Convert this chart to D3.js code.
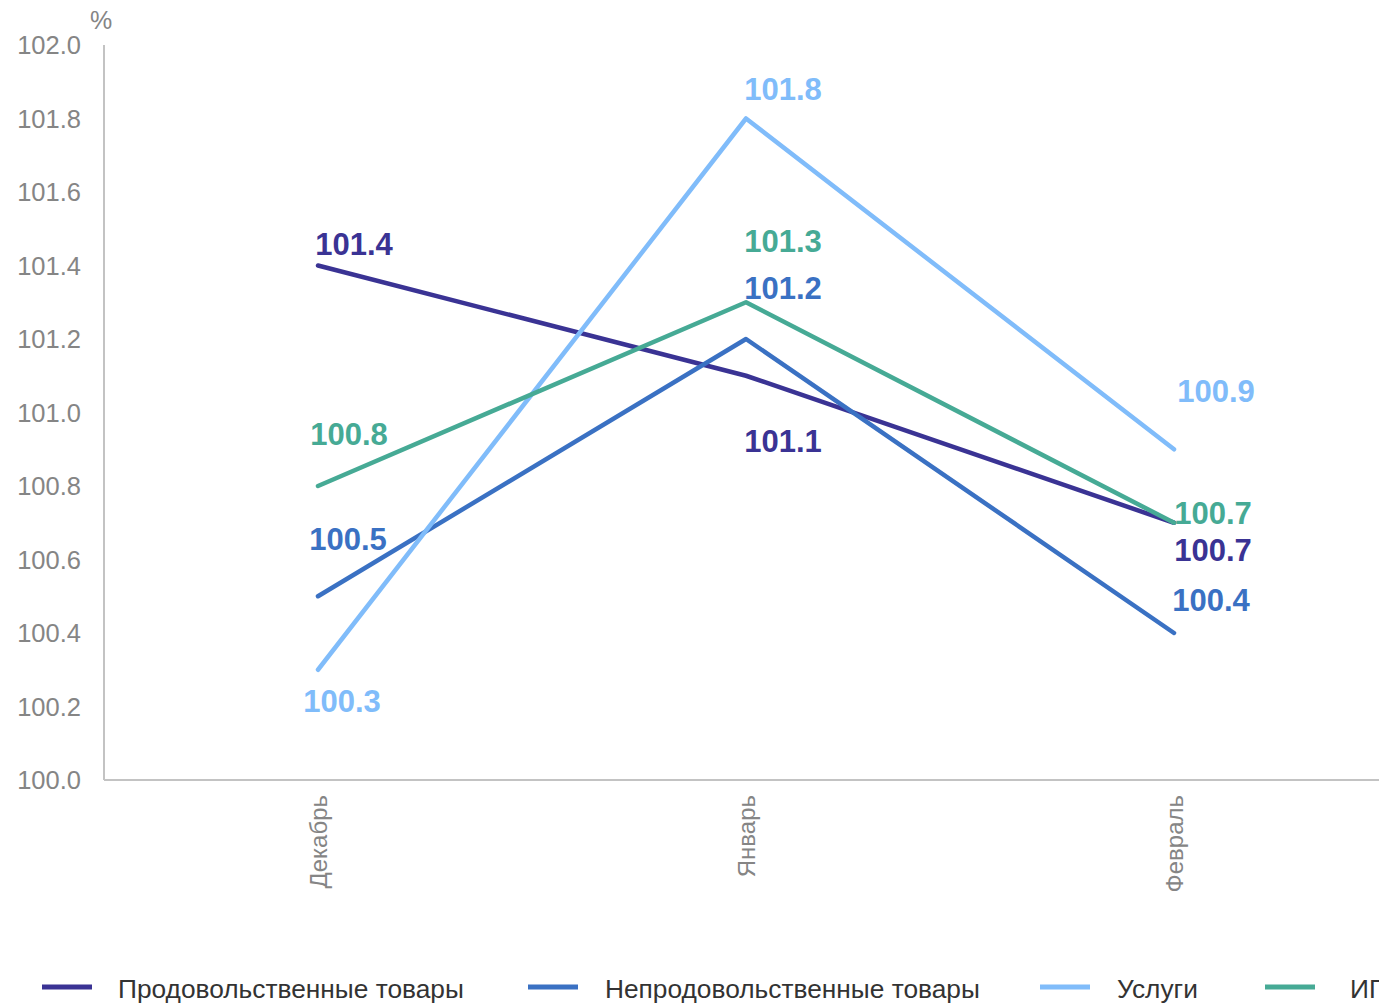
<!DOCTYPE html>
<html>
<head>
<meta charset="utf-8">
<script src="https://cdn.jsdelivr.net/npm/d3@7/dist/d3.min.js"></script>
<style>
  body { margin: 0; background: #fff; }
  svg { display: block; font-family: "Liberation Sans", Arial, sans-serif; }
</style>
</head>
<body>
<svg id="chart" width="1379" height="1003"></svg>
<script>
// months on the x axis
const months = ["Декабрь", "Январь", "Февраль"];
// y ticks
const yTicks = [100.0, 100.2, 100.4, 100.6, 100.8, 101.0, 101.2, 101.4, 101.6, 101.8, 102.0];

const seriesNames = ["Продовольственные товары", "Непродовольственные товары", "Услуги", "ИПЦ"];
const seriesColors = ["#3a3394", "#3a71c3", "#80bcfa", "#46aa95"];

const foodVals = [101.4, 101.1, 100.7];
const nonFoodVals = [100.5, 101.2, 100.4];
const servicesVals = [100.3, 101.8, 100.9];
const cpiVals = [100.8, 101.3, 100.7];

// label nudges (px) per series per point
const labelNudge = [
  [[36, -22], [37, 65], [39, 27]],
  [[30, -57], [37, -51], [37, -33]],
  [[24, 31], [37, -30], [42, -58]],
  [[31, -52], [37, -61], [39, -10]]
];

const margin = {left: 104, top: 45, bottom: 223};
const W = 1379, H = 1003;

const svg = d3.select("#chart");

const x = d3.scaleBand().domain(months).range([margin.left, margin.left + 3 * 428]);
const y = d3.scaleLinear().domain([100, 102]).range([H - margin.bottom, margin.top]);
const cx = m => x(m) + x.bandwidth() / 2;

// axes
svg.append("line")
  .attr("x1", margin.left).attr("x2", margin.left)
  .attr("y1", y(102)).attr("y2", y(100))
  .attr("stroke", "#c3c3c3").attr("stroke-width", 2);
svg.append("line")
  .attr("x1", margin.left).attr("x2", W)
  .attr("y1", y(100)).attr("y2", y(100))
  .attr("stroke", "#c3c3c3").attr("stroke-width", 2);

svg.append("g").selectAll("text")
  .data(yTicks)
  .enter().append("text")
  .attr("x", 81)
  .attr("y", d => y(d))
  .attr("dy", "0.36em")
  .attr("text-anchor", "end")
  .attr("fill", "#858585")
  .style("font-size", "25.5px")
  .text(d => d.toFixed(1));

svg.append("text")
  .attr("x", 101).attr("y", 29)
  .attr("text-anchor", "middle")
  .attr("fill", "#858585")
  .style("font-size", "25px")
  .text("%");

svg.append("g").selectAll("text")
  .data(months)
  .enter().append("text")
  .attr("transform", d => `translate(${cx(d) + 9},795) rotate(-90)`)
  .attr("text-anchor", "end")
  .attr("fill", "#858585")
  .style("font-size", "24px")
  .text(d => d);

// lines
const allVals = [foodVals, nonFoodVals, servicesVals, cpiVals];
const line = d3.line().x((d, i) => cx(months[i])).y(d => y(d));

allVals.forEach((vals, s) => {
  svg.append("path")
    .datum(vals)
    .attr("d", line)
    .attr("fill", "none")
    .attr("stroke", seriesColors[s])
    .attr("stroke-width", 4.5)
    .attr("stroke-linecap", "round")
    .attr("stroke-linejoin", "round");
});

// data labels
allVals.forEach((vals, s) => {
  svg.append("g").selectAll("text")
    .data(vals)
    .enter().append("text")
    .attr("x", (d, i) => cx(months[i]) + labelNudge[s][i][0])
    .attr("y", (d, i) => y(d) + labelNudge[s][i][1])
    .attr("dy", "0.36em")
    .attr("text-anchor", "middle")
    .attr("fill", seriesColors[s])
    .style("font-size", "31px")
    .style("font-weight", "bold")
    .text(d => d.toFixed(1));
});

// legend
const legX = [42, 528, 1040, 1265];
const legTextX = [76, 77, 77, 85];
const leg = svg.append("g").selectAll("g")
  .data(seriesNames)
  .enter().append("g")
  .attr("transform", (d, i) => `translate(${legX[i]},987)`);
leg.append("line")
  .attr("x1", 0).attr("x2", 50)
  .attr("stroke", (d, i) => seriesColors[i])
  .attr("stroke-width", 5);
leg.append("text")
  .attr("x", (d, i) => legTextX[i])
  .attr("y", 2)
  .attr("dy", "0.36em")
  .attr("fill", "#333")
  .style("font-size", "26.3px")
  .text(d => d);
</script>
</body>
</html>
